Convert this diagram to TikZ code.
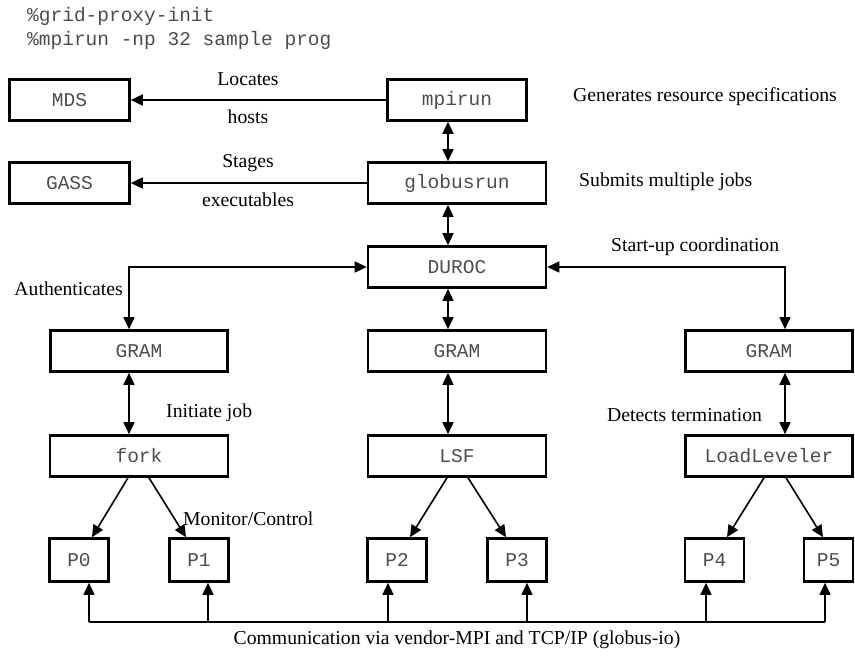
\documentclass[tikz,border=0pt]{standalone}
\usepackage{fontspec}
\setmainfont{Liberation Serif}
\setmonofont{Liberation Mono}
\usetikzlibrary{arrows.meta,calc}
\begin{document}
\begin{tikzpicture}[x=1pt,y=-1pt,
  box/.style={draw, line width=2.6pt, minimum height=41pt, inner sep=0pt,
    font=\fontsize{19.5}{22}\selectfont\ttfamily, text=black!70},
  lbl/.style={inner sep=0pt, font=\fontsize{19.7}{22}\selectfont},
  code/.style={inner sep=0pt, font=\fontsize{19.5}{22}\selectfont\ttfamily, text=black!70},
  tip/.tip={Triangle[length=12pt,width=11pt]},
  arr/.style={line width=1.6pt, -tip},
  dbl/.style={line width=1.6pt, tip-tip},
  bus/.style={line width=1.1pt}
  ]
\useasboundingbox (0,0) rectangle (855,657);

% command lines
\node[code, anchor=west] (c1) at (27,16) {\%grid-proxy-init};
\node[code, anchor=west] (c2) at (27,40) {\%mpirun -np 32 sample prog};

% boxes
\node[box, minimum width=120pt] (mds) at (69.5,100) {MDS};
\node[box, minimum width=139pt] (mpirun) at (457,100) {mpirun};
\node[box, minimum width=120pt] (gass) at (69.5,183) {GASS};
\node[box, minimum width=178pt] (globus) at (457,183) {globusrun};
\node[box, minimum width=178pt] (duroc) at (457,267) {DUROC};
\node[box, minimum width=177pt] (gramL) at (139,351) {GRAM};
\node[box, minimum width=178pt] (gramM) at (457,351) {GRAM};
\node[box, minimum width=167pt] (gramR) at (769,351) {GRAM};
\node[box, minimum width=178pt] (fork) at (139,456) {fork};
\node[box, minimum width=178pt] (lsf) at (457,456) {LSF};
\node[box, minimum width=167pt] (ll) at (769,456) {LoadLeveler};
\node[box, minimum width=59pt, minimum height=43pt] (p0) at (79,560) {P0};
\node[box, minimum width=59pt, minimum height=43pt] (p1) at (199,560) {P1};
\node[box, minimum width=59pt, minimum height=43pt] (p2) at (397,560) {P2};
\node[box, minimum width=59pt, minimum height=43pt] (p3) at (517,560) {P3};
\node[box, minimum width=59pt, minimum height=43pt] (p4) at (714.5,560) {P4};
\node[box, minimum width=49pt, minimum height=43pt] (p5) at (828.5,560) {P5};

% column coordinates
\coordinate (cL) at (129,0);
\coordinate (cM) at (448,0);
\coordinate (cR) at (785,0);

% horizontal arrows
\draw[arr] (mpirun.west) -- (mpirun.west -| mds.east);
\draw[arr] (globus.west) -- (globus.west -| gass.east);
\node[lbl] (l1) at (248,79) {Locates};
\node[lbl] (l2) at (248,117) {hosts};
\node[lbl] (l3) at (248,163) {Stages};
\node[lbl] (l4) at (248,200) {executables};

% vertical double arrows
\draw[dbl] (mpirun.south -| cM) -- (globus.north -| cM);
\draw[dbl] (globus.south -| cM) -- (duroc.north -| cM);
\draw[dbl] (duroc.south -| cM) -- (gramM.north -| cM);
\draw[dbl] (gramM.south -| cM) -- (lsf.north -| cM);
\draw[dbl] (gramL.south -| cL) -- (fork.north -| cL);
\draw[dbl] (gramR.south -| cR) -- (ll.north -| cR);

% DUROC links
\draw[dbl] (gramL.north -| cL) |- (duroc.west);
\draw[dbl] (duroc.east) -| (gramR.north -| cR);

% fan-out arrows
\draw[arr] ($(fork.south)+(-11,0)$) -- ($(p0.north)+(13,0)$);
\draw[arr] ($(fork.south)+(10,0)$) -- ($(p1.north)+(-13,0)$);
\draw[arr] ($(lsf.south)+(-10,0)$) -- ($(p2.north)+(13,0)$);
\draw[arr] ($(lsf.south)+(11,0)$) -- ($(p3.north)+(-11,0)$);
\draw[arr] ($(ll.south)+(-5,0)$) -- ($(p4.north)+(12.5,0)$);
\draw[arr] ($(ll.south)+(17,0)$) -- ($(p5.north)+(-5.5,0)$);

% communication bus
\coordinate (u0) at ($(p0.south)+(10,0)$);
\coordinate (u1) at ($(p1.south)+(9,0)$);
\coordinate (u2) at ($(p2.south)+(-9,0)$);
\coordinate (u3) at ($(p3.south)+(10,0)$);
\coordinate (u4) at ($(p4.south)+(-8.5,0)$);
\coordinate (u5) at ($(p5.south)+(-3.5,0)$);
\coordinate (busy) at (0,622);
\draw[bus] (u0 |- busy) -- (u5 |- busy);
\foreach \u in {u0,u1,u2,u3,u4,u5}
  \draw[arr] (\u |- busy) -- (\u);

% side labels
\node[lbl, anchor=west] (g1) at (573,97) {Generates resource specifications};
\node[lbl, anchor=west] (g2) at (579,182) {Submits multiple jobs};
\node[lbl, anchor=west] (g3) at (611,247) {Start-up coordination};
\node[lbl, anchor=east] (g4) at (123,289) {Authenticates};
\node[lbl, anchor=west] (g5) at (166,413) {Initiate job};
\node[lbl, anchor=west] (g6) at (607,415) {Detects termination};
\node[lbl, anchor=west] (g7) at (183,519) {Monitor/Control};
\node[lbl] (g8) at (457,640) {Communication via vendor-MPI and TCP/IP (globus-io)};
\end{tikzpicture}
\end{document}
